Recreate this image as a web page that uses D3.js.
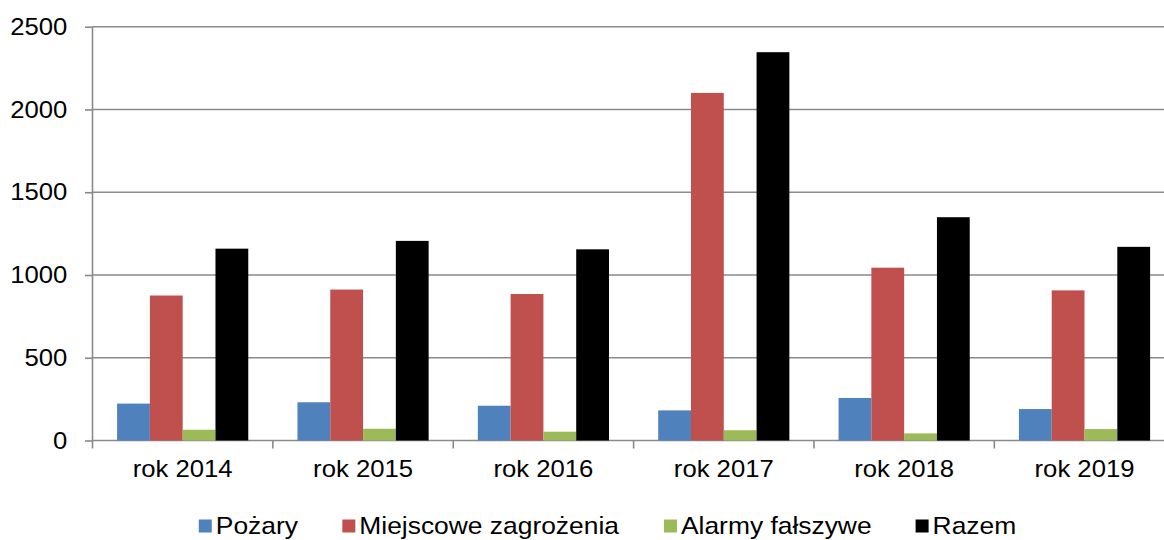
<!DOCTYPE html>
<html>
<head>
<meta charset="utf-8">
<script src="https://cdn.jsdelivr.net/npm/d3@7"></script>
<style>
  body { margin: 0; background: #fff; }
  text { font-family: "Liberation Sans", Arial, sans-serif; fill: #000; }
</style>
</head>
<body>
<div id="container"></div>
<script>
// chart data
const years = ["rok 2014", "rok 2015", "rok 2016", "rok 2017", "rok 2018", "rok 2019"];
const seriesNames = ["Pożary", "Miejscowe zagrożenia", "Alarmy fałszywe", "Razem"];
const pozary = [223, 231, 210, 182, 257, 190];
const miejscowe = [876, 912, 885, 2100, 1044, 907];
const alarmy = [65, 71, 53, 62, 43, 69];
const razem = [1159, 1206, 1155, 2346, 1349, 1170];
const yTicks = [0, 500, 1000, 1500, 2000, 2500];

const seriesColors = ["#4F81BD", "#C0504D", "#9BBB59", "#000000"];
const seriesValues = [pozary, miejscowe, alarmy, razem];

const width = 1164, height = 540;
const plotLeft = 92.5, plotRight = 1174.7, plotTop = 26.7, plotBottom = 440.5;
const sx = 1.07;
const stretch = "scale(" + sx + ",1)";   // reference text is slightly wide

let svg = d3.select("#container").append("svg")
    .attr("width", width)
    .attr("height", height)
    .style("display", "block");

let x0 = d3.scaleBand().domain(years).range([plotLeft, plotRight]).padding(0);
let x1 = d3.scaleBand().domain(seriesNames).range([0, x0.bandwidth()])
    .paddingInner(0).paddingOuter(0.75);
let y = d3.scaleLinear().domain([0, 2500]).range([plotBottom, plotTop]);

// gridlines
svg.append("g").selectAll("line").data(yTicks).enter().append("line")
    .attr("x1", plotLeft).attr("x2", plotRight)
    .attr("y1", d => y(d)).attr("y2", d => y(d))
    .attr("stroke", "#8a8a8a")
    .attr("stroke-width", 1.6);

// bars
let rows = years.map((yr, i) => ({ year: yr, vals: seriesNames.map((s, j) => ({ s: s, j: j, v: seriesValues[j][i] })) }));
let groups = svg.append("g").selectAll("g").data(rows).enter().append("g")
    .attr("transform", d => "translate(" + x0(d.year) + ",0)");
groups.selectAll("rect").data(d => d.vals).enter().append("rect")
    .attr("x", d => x1(d.s))
    .attr("y", d => y(d.v))
    .attr("width", x1.bandwidth())
    .attr("height", d => y(0) - y(d.v))
    .attr("fill", d => seriesColors[d.j]);

// y axis
let yAxis = svg.append("g")
    .attr("transform", "translate(" + plotLeft + ",0)")
    .call(d3.axisLeft(y).tickValues(yTicks).tickSize(7.5).tickPadding(16).tickFormat(d3.format("d")));
yAxis.select(".domain").attr("stroke", "#8a8a8a").attr("stroke-width", 1.6)
    .attr("d", "M0," + plotTop + "V" + (plotBottom + 8));
yAxis.selectAll(".tick line").attr("stroke", "#8a8a8a").attr("stroke-width", 1.6);
yAxis.selectAll(".tick text")
    .attr("font-size", 24)
    .attr("font-family", "Liberation Sans, Arial, sans-serif")
    .attr("fill", "#000")
    .attr("transform", stretch);

// x axis
let xAxis = svg.append("g")
    .attr("transform", "translate(0," + plotBottom + ")")
    .call(d3.axisBottom(x0).tickSize(0).tickPadding(19));
xAxis.select(".domain").remove();
xAxis.selectAll(".tick text")
    .attr("font-size", 24)
    .attr("font-family", "Liberation Sans, Arial, sans-serif")
    .attr("fill", "#000")
    .attr("transform", stretch);
// category separators
svg.append("g").selectAll("line").data(years.slice(1).concat(["end"])).enter().append("line")
    .attr("x1", d => d === "end" ? plotRight : x0(d))
    .attr("x2", d => d === "end" ? plotRight : x0(d))
    .attr("y1", plotBottom).attr("y2", plotBottom + 8)
    .attr("stroke", "#8a8a8a").attr("stroke-width", 1.6);

// legend
let legend = svg.append("g").attr("transform", "translate(0,525)");
let items = legend.selectAll("g").data(seriesNames).enter().append("g");
items.append("rect")
    .attr("y", -5.5).attr("width", 13).attr("height", 13)
    .attr("fill", (d, i) => seriesColors[i]);
items.append("text")
    .attr("x", 17 / 1.1)
    .attr("dy", "0.36em")
    .attr("font-size", 24)
    .attr("transform", "scale(1.1,1)")
    .text(d => d);
let xpos = 0, widths = [];
items.each(function() { widths.push(this.getBoundingClientRect().width); });
let gap = 44;
let total = d3.sum(widths) + gap * (widths.length - 1);
xpos = 607.5 - total / 2;
items.attr("transform", (d, i) => {
    let t = "translate(" + xpos + ",0)";
    xpos += widths[i] + gap;
    return t;
});
</script>
</body>
</html>
